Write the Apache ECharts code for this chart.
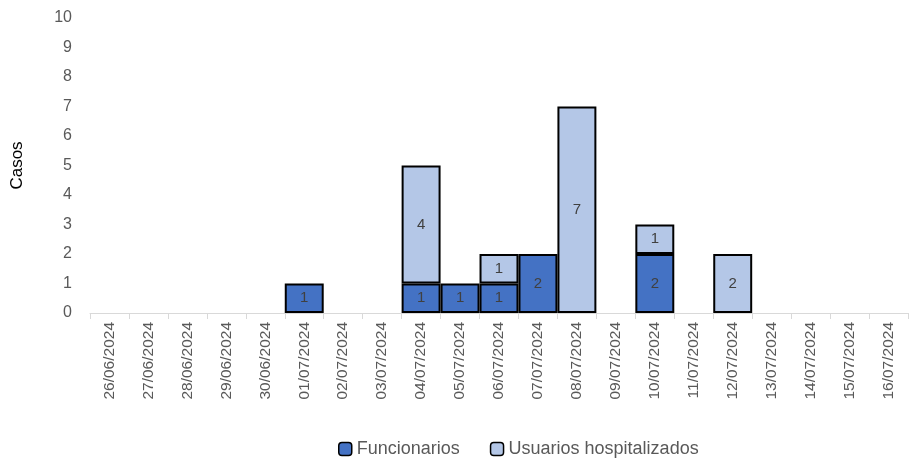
<!DOCTYPE html>
<html><head><meta charset="utf-8">
<script src="https://cdn.jsdelivr.net/npm/echarts@6/dist/echarts.min.js"></script>
<style>html,body{margin:0;padding:0;background:#fff}#c{width:909px;height:459px}</style>
</head><body><div id="c"></div>
<script>
const categories = ['26/06/2024','27/06/2024','28/06/2024','29/06/2024','30/06/2024','01/07/2024','02/07/2024','03/07/2024','04/07/2024','05/07/2024','06/07/2024','07/07/2024','08/07/2024','09/07/2024','10/07/2024','11/07/2024','12/07/2024','13/07/2024','14/07/2024','15/07/2024','16/07/2024'];
const funcionarios = [null,null,null,null,null,1,null,null,1,1,1,2,null,null,2,null,null,null,null,null,null];
const usuarios = [null,null,null,null,null,null,null,null,4,null,1,null,7,null,1,null,2,null,null,null,null];
const yTicks = {min:0, max:10, interval:1};

const font = 'Liberation Sans';
const chart = echarts.init(document.getElementById('c'));
const barStyle = (color) => ({
  type:'bar', stack:'total', barCategoryGap:'0%',
  itemStyle:{color:color, borderColor:'#000', borderWidth:2},
  label:{show:true, position:'inside', color:'#404040', fontSize:15, fontFamily:font},
  emphasis:{disabled:true}
});
chart.setOption({
  animation:false,
  grid:{left:90, right:1, top:18, bottom:146},
  legend:{
    top:435, left:333, itemWidth:13, itemHeight:13, itemGap:30,
    textStyle:{color:'#595959', fontSize:18, fontFamily:font},
    data:[{name:'Funcionarios', itemStyle:{borderColor:'#000', borderWidth:1.5}},
          {name:'Usuarios hospitalizados', itemStyle:{borderColor:'#000', borderWidth:1.5}}]
  },
  xAxis:{
    type:'category', data:categories,
    axisLine:{lineStyle:{color:'#D9D9D9', width:1}},
    axisTick:{show:true, interval:0, length:6, lineStyle:{color:'#D9D9D9'}},
    axisLabel:{rotate:90, interval:0, color:'#595959', fontSize:15.5, fontFamily:font, margin:9}
  },
  yAxis:{
    type:'value', min:yTicks.min, max:yTicks.max, interval:yTicks.interval,
    name:'Casos', nameLocation:'middle', nameGap:64, nameRotate:90,
    nameTextStyle:{color:'#000', fontSize:17, fontFamily:font},
    splitLine:{show:false}, axisLine:{show:false}, axisTick:{show:false},
    axisLabel:{color:'#595959', fontSize:16, fontFamily:font, margin:18}
  },
  series:[
    Object.assign(barStyle('#4472C4'), {name:'Funcionarios', data:funcionarios}),
    Object.assign(barStyle('#B4C7E7'), {name:'Usuarios hospitalizados', data:usuarios})
  ]
});
</script></body></html>
